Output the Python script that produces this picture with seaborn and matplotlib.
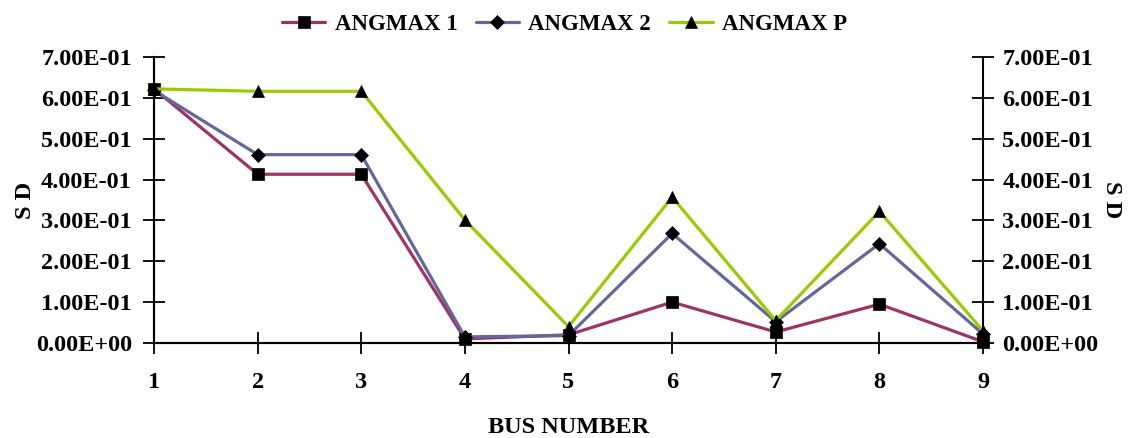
import numpy as np
import pandas as pd
import matplotlib
matplotlib.use("Agg")
import matplotlib.pyplot as plt
from matplotlib.ticker import FuncFormatter
import seaborn as sns

# Standard deviation of the maximum angle per bus
bus = [1, 2, 3, 4, 5, 6, 7, 8, 9]
angmax_1 = [0.622, 0.413, 0.413, 0.010, 0.020, 0.100, 0.027, 0.095, 0.003]
angmax_2 = [0.618, 0.461, 0.461, 0.015, 0.018, 0.268, 0.052, 0.243, 0.022]
angmax_p = [0.622, 0.616, 0.616, 0.301, 0.040, 0.357, 0.055, 0.322, 0.030]
series_names = ["ANGMAX 1", "ANGMAX 2", "ANGMAX P"]
y_ticks = [0.0, 0.1, 0.2, 0.3, 0.4, 0.5, 0.6, 0.7]

sns.set_style("white")
plt.rcParams["font.family"] = ["Liberation Serif", "DejaVu Serif"]
plt.rcParams["font.weight"] = "bold"
plt.rcParams["text.color"] = "black"
plt.rcParams["axes.labelcolor"] = "black"
plt.rcParams["xtick.color"] = "black"
plt.rcParams["ytick.color"] = "black"

df = pd.DataFrame({"BUS": bus * 3,
                   "SD": angmax_1 + angmax_2 + angmax_p,
                   "Series": [n for n in series_names for _ in bus]})

palette = {"ANGMAX 1": "#9e3364", "ANGMAX 2": "#66669e", "ANGMAX P": "#99cc00"}
markers = {"ANGMAX 1": "s", "ANGMAX 2": "D", "ANGMAX P": "^"}
msizes = {"ANGMAX 1": 8, "ANGMAX 2": 7, "ANGMAX P": 9}

fig = plt.figure(figsize=(11.36, 4.38), dpi=100)
ax = fig.add_axes([0.1356, 0.2169, 0.7297, 0.653])

sns.lineplot(data=df, x="BUS", y="SD", hue="Series", style="Series",
             palette=palette, markers=markers, dashes=False, legend=False,
             linewidth=2.3, markerfacecolor="black", markeredgecolor="black",
             markeredgewidth=0.5, markersize=8, ax=ax)
for line, name in zip(ax.lines, series_names):
    line.set_markersize(msizes[name])
    line.set_clip_on(False)

fmt = FuncFormatter(lambda v, p: "{:.2E}".format(v))
ax.set_xlim(1, 9)
ax.set_ylim(0, 0.7)
ax.set_xticks(bus)
ax.set_yticks(y_ticks)
ax.yaxis.set_major_formatter(fmt)

ax2 = ax.twinx()
ax2.set_ylim(0, 0.7)
ax2.set_yticks(y_ticks)
ax2.yaxis.set_major_formatter(fmt)

for a in (ax, ax2):
    for s in a.spines.values():
        s.set_color("black")
        s.set_linewidth(1.5)
    a.spines["top"].set_visible(False)
ax.spines["right"].set_visible(False)

ax.tick_params(axis="y", direction="inout", length=16, width=1.3, pad=8,
               labelsize=17.5, left=True, colors="black")
ax.tick_params(axis="x", direction="inout", length=16, width=1.3, pad=13,
               labelsize=17.5, bottom=True, colors="black")
ax2.tick_params(axis="y", direction="inout", length=16, width=1.3, pad=6,
                labelsize=17.5, right=True, colors="black")
for lab in ax.get_xticklabels() + ax.get_yticklabels() + ax2.get_yticklabels():
    lab.set_fontweight("bold")

ax.set_xlabel("BUS NUMBER", fontsize=17.5, fontweight="bold", labelpad=17,
              color="black")
ax.set_ylabel("S D", fontsize=17.5, fontweight="bold", labelpad=0,
              color="black")
ax2.set_ylabel("S D", fontsize=17.5, fontweight="bold", rotation=270,
               labelpad=17, color="black")

fig.legend(ax.lines[:3], series_names, loc="upper center",
           bbox_to_anchor=(0.497, 1.015), ncol=3, frameon=False,
           prop={"size": 16.5, "weight": "bold"}, handlelength=1.9,
           columnspacing=0.8, handletextpad=0.4, labelcolor="black")

fig.savefig("out.png", dpi=100, facecolor="white")
